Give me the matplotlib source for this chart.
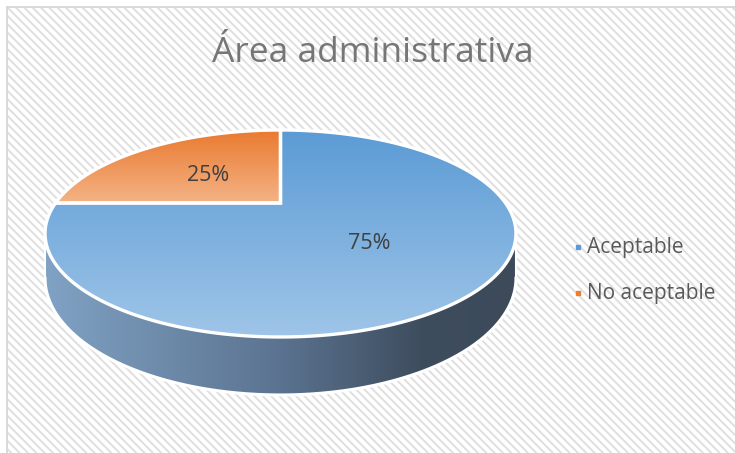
import numpy as np
import matplotlib.pyplot as plt
from matplotlib.patches import Polygon, Rectangle
from matplotlib.colors import to_rgb

title = 'Área administrativa'
labels = ['Aceptable', 'No aceptable']
values = [75, 25]
top_colors = [('#5b9bd5', '#9fc5e8'), ('#e97a30', '#f4b386')]
legend_colors = ['#5b9bd5', '#ed7d31']

W, H_PX = 735, 453
plt.rcParams['hatch.linewidth'] = 1.4

fig = plt.figure(figsize=(W / 100, H_PX / 100), dpi=100)
ax = fig.add_axes([0, 0, 1, 1])
ax.set_xlim(0, W)
ax.set_ylim(H_PX, 0)
ax.axis('off')

# background: white with fine diagonal stripes, grey border on left/top
ax.add_patch(Rectangle((7, 7), W, H_PX, facecolor='white', edgecolor='#dfdfdf',
                       hatch='\\\\\\\\', linewidth=0, zorder=0))
ax.plot([7, 7], [7, H_PX], color='#d9d9d9', lw=1.4, zorder=1)
ax.plot([7, W], [7, 7], color='#d9d9d9', lw=1.4, zorder=1)

# perspective projection of the pie disk
cx, cy = 280.5, 203.0
A, B, k, depth = 225.0, 94.5, 0.2947, 40.9


def proj(t, r=1.0, dz=0.0):
    u, v = r * np.cos(t), r * np.sin(t)
    d = 1 + k * v
    return cx + A * u / d, cy - B * v / d + depth * dz / d


def gradient_fill(xy, stops, vertical=True, z=2):
    poly = Polygon(xy, closed=True, facecolor='none', edgecolor='none', zorder=z)
    ax.add_patch(poly)
    x0, y0 = xy.min(axis=0)
    x1, y1 = xy.max(axis=0)
    n = 256
    pos = np.linspace(0, 1, n)
    sp = [s[0] for s in stops]
    cols = np.array([to_rgb(s[1]) for s in stops])
    ramp = np.stack([np.interp(pos, sp, cols[:, c]) for c in range(3)], axis=-1)
    img = ramp[:, None, :] if vertical else ramp[None, :, :]
    im = ax.imshow(img, extent=(x0, x1, y1, y0), origin='upper', aspect='auto',
                   interpolation='bilinear', zorder=z)
    im.set_clip_path(poly)
    return poly


# side wall (front part between silhouette points)
ts = np.arcsin(-k)
tt = np.linspace(np.pi - ts, 2 * np.pi + ts, 300)
top_x, top_y = proj(tt)
bot_x, bot_y = proj(tt, dz=1.0)
side = np.column_stack([np.r_[top_x, bot_x[::-1]], np.r_[top_y, bot_y[::-1]]])
gradient_fill(side, [(0, '#80a2c4'), (0.5, '#5b7390'), (0.8, '#3e4d5e'), (1, '#3c4a5a')],
              vertical=False, z=2)
ax.plot(bot_x, bot_y, color='white', lw=2.2, zorder=3)
ax.plot([top_x[0], bot_x[0]], [top_y[0], bot_y[0]], color='white', lw=1.5, zorder=3)
ax.plot([top_x[-1], bot_x[-1]], [top_y[-1], bot_y[-1]], color='white', lw=1.5, zorder=3)

# top faces, first slice starts at 12 o'clock and runs clockwise
total = float(sum(values))
start = np.pi / 2
for i, (val, lab) in enumerate(zip(values, labels)):
    sweep = 2 * np.pi * val / total
    t = np.linspace(start, start - sweep, 400)
    ax_, ay_ = proj(t)
    xy = np.column_stack([np.r_[cx, ax_], np.r_[cy, ay_]])
    gradient_fill(xy, [(0, top_colors[i][0]), (1, top_colors[i][1])], z=4)
    ax.add_patch(Polygon(xy, closed=True, facecolor='none', edgecolor='white',
                         lw=2.4, joinstyle='miter', zorder=5))
    lx, ly = proj(start - sweep / 2, r=0.5)
    ax.text(lx, ly + 3, f'{val / total:.0%}', ha='center', va='center',
            fontsize=15.5, color='#404040', family='Open Sans', zorder=6)
    start -= sweep

ax.text(373, 53, title, ha='center', va='center', fontsize=25.5,
        color='#767676', family='Open Sans', zorder=6)

for i, lab in enumerate(labels):
    ly = 247 + 46 * i
    ax.plot([578], [ly], marker='s', ms=3.2, color=legend_colors[i], lw=0, zorder=6)
    ax.text(587, ly, lab, ha='left', va='center', fontsize=15,
            color='#595959', family='Open Sans', zorder=6)

fig.savefig('out.png', dpi=100)
